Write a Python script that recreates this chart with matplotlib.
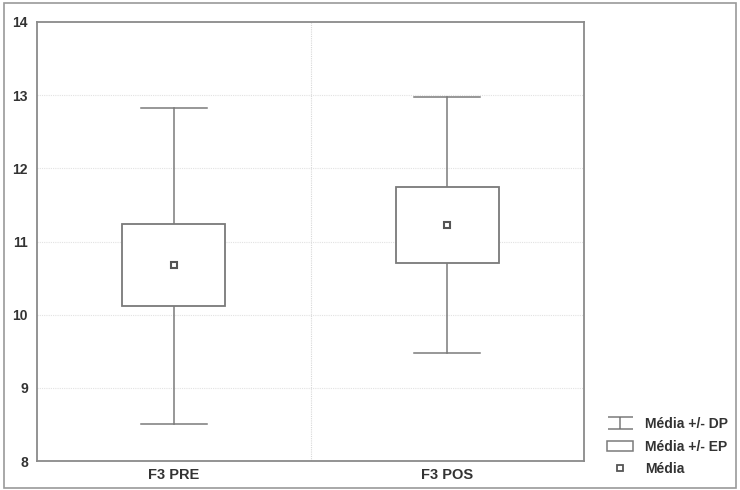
import matplotlib.pyplot as plt
from matplotlib.lines import Line2D
from matplotlib.patches import Patch, Rectangle
from matplotlib.path import Path

plt.rcParams['font.family'] = ['Liberation Sans', 'DejaVu Sans']
plt.rcParams['font.weight'] = 'bold'

groups = ['F3 PRE', 'F3 POS']
media = [10.68, 11.23]
ep_low = [10.12, 10.70]
ep_high = [11.24, 11.75]
dp_low = [8.51, 9.47]
dp_high = [12.82, 12.97]
y_ticks = [8, 9, 10, 11, 12, 13, 14]

line_col = '#7a7a7a'
frame_col = '#8a8a8a'
text_col = '#333333'

fig = plt.figure(figsize=(7.4, 4.9), dpi=100)
ax = fig.add_axes([37 / 740, 29 / 490, 547 / 740, 439 / 490])

# outer frame
fig.patches.append(Rectangle((4 / 740, 2 / 490), 732 / 740, 485 / 490,
                             transform=fig.transFigure, fill=False,
                             edgecolor='#9a9a9a', linewidth=1.2))

box_w = 0.375
cap_w = 0.24
for i, g in enumerate(groups):
    x = i + 1
    # whiskers (mean +/- DP)
    ax.plot([x, x], [dp_low[i], ep_low[i]], color=line_col, lw=1.1, zorder=3)
    ax.plot([x, x], [ep_high[i], dp_high[i]], color=line_col, lw=1.1, zorder=3)
    ax.plot([x - cap_w / 2, x + cap_w / 2], [dp_low[i]] * 2, color=line_col, lw=1.1, zorder=3)
    ax.plot([x - cap_w / 2, x + cap_w / 2], [dp_high[i]] * 2, color=line_col, lw=1.1, zorder=3)
    # box (mean +/- EP)
    ax.add_patch(Rectangle((x - box_w / 2, ep_low[i]), box_w, ep_high[i] - ep_low[i],
                           facecolor='white', edgecolor=line_col, lw=1.3, zorder=3))
    # mean
    ax.plot(x, media[i], marker='s', ms=4.5, mfc='white', mec='#555555', mew=1.5, zorder=4)

ax.set_xlim(0.5, 2.5)
ax.set_ylim(8, 14)
ax.set_yticks(y_ticks)
ax.set_xticks([1, 2])
ax.set_xticklabels(groups)
ax.tick_params(length=0, colors=text_col)
ax.tick_params(axis='y', labelsize=10, pad=6.5)
ax.tick_params(axis='x', labelsize=10.5, pad=5)

for y in y_ticks[1:-1]:
    ax.axhline(y, color='#e2e2e2', lw=0.8, ls=(0, (1, 1)), zorder=1)
ax.axvline(1.5, color='#d8d8d8', lw=0.8, ls=(0, (1, 1)), zorder=1)

for s in ax.spines.values():
    s.set_color(frame_col)
    s.set_linewidth(1.3)

# legend
ibeam = Path([(-1, 0.5), (1, 0.5), (0, 0.5), (0, -0.5), (-1, -0.5), (1, -0.5)],
             [Path.MOVETO, Path.LINETO, Path.MOVETO, Path.LINETO, Path.MOVETO, Path.LINETO])
handles = [
    Line2D([], [], marker=ibeam, ms=18, mfc='none', mec=line_col, mew=1.1, ls='none'),
    Patch(facecolor='white', edgecolor=line_col, lw=1.1),
    Line2D([], [], marker='s', ms=4, mfc='white', mec='#555555', mew=1.3, ls='none'),
]
labels = ['Média +/- DP', 'Média +/- EP', 'Média']
leg = fig.legend(handles, labels, loc='lower left', bbox_to_anchor=(607 / 740, 14 / 490),
                 frameon=False, fontsize=10, handlelength=1.9, handletextpad=0.85,
                 labelspacing=0.6, borderpad=0, borderaxespad=0)
for t in leg.get_texts():
    t.set_color(text_col)

fig.savefig('out.png', dpi=100)
